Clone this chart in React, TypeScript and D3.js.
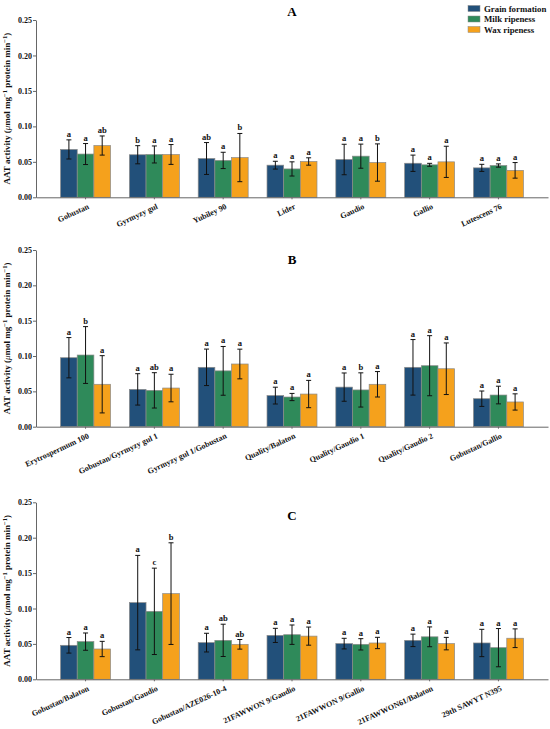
import { useEffect, useRef } from "react";
import * as d3 from "d3";

const SERIES = ["Grain formation", "Milk ripeness", "Wax ripeness"];
const COLORS = ["#22507a", "#2f8a5a", "#f5a11c"];
const Y_TICKS = [0, 0.05, 0.1, 0.15, 0.2, 0.25];

// panel A
const catsA = ["Gobustan", "Gyrmyzy gul", "Yubiley 90", "Lider", "Gaudio", "Gallio", "Lutescens 76"];
const meanA = [
  [0.0675, 0.060, 0.0547, 0.0453, 0.0533, 0.048, 0.0415],
  [0.061, 0.0604, 0.052, 0.040, 0.058, 0.0458, 0.0448],
  [0.073, 0.0604, 0.056, 0.0505, 0.049, 0.050, 0.038],
];
const errA = [
  [0.0135, 0.0128, 0.0225, 0.0055, 0.0215, 0.0115, 0.005],
  [0.0148, 0.012, 0.0115, 0.010, 0.017, 0.0021, 0.0023],
  [0.0135, 0.014, 0.034, 0.0052, 0.0263, 0.022, 0.011],
];
const letA = [
  ["a", "b", "ab", "a", "a", "a", "a"],
  ["a", "a", "a", "a", "a", "a", "a"],
  ["ab", "a", "b", "a", "b", "a", "a"],
];

// panel B
const catsB = ["Erytrospermum 100", "Gobustan/Gyrmyzy gul 1", "Gyrmyzy gul 1/Gobustan", "Quality/Balaton", "Quality/Gaudio 1", "Quality/Gaudio 2", "Gobustan/Gallio"];
const meanB = [
  [0.0976, 0.0528, 0.084, 0.044, 0.056, 0.084, 0.0396],
  [0.1014, 0.0514, 0.079, 0.042, 0.052, 0.0863, 0.0448],
  [0.060, 0.0547, 0.0887, 0.0462, 0.060, 0.082, 0.035],
];
const errB = [
  [0.0285, 0.0222, 0.0258, 0.0119, 0.020, 0.0393, 0.0109],
  [0.0402, 0.025, 0.0345, 0.0051, 0.0242, 0.0425, 0.0125],
  [0.0405, 0.0195, 0.021, 0.0193, 0.018, 0.0365, 0.0115],
];
const letB = [
  ["a", "a", "a", "a", "a", "a", "a"],
  ["b", "ab", "a", "a", "b", "a", "a"],
  ["a", "a", "a", "a", "a", "a", "a"],
];

// panel C
const catsC = ["Gobustan/Balaton", "Gobustan/Gaudio", "Gobustan/AZE026-10-4", "21FAWWON 9/Gaudio", "21FAWWON 9/Gallio", "21FAWWON61/Balaton", "29th SAWYT N395"];
const meanC = [
  [0.048, 0.1083, 0.0518, 0.062, 0.0504, 0.055, 0.0513],
  [0.0532, 0.096, 0.055, 0.063, 0.0494, 0.060, 0.0447],
  [0.0428, 0.121, 0.0494, 0.061, 0.0513, 0.0504, 0.058],
];
const errC = [
  [0.011, 0.0667, 0.0132, 0.010, 0.0075, 0.0088, 0.0193],
  [0.0122, 0.061, 0.0228, 0.0137, 0.008, 0.014, 0.027],
  [0.0108, 0.0718, 0.0068, 0.0128, 0.008, 0.0088, 0.0132],
];
const letC = [
  ["a", "a", "a", "a", "a", "a", "a"],
  ["a", "c", "ab", "a", "a", "a", "a"],
  ["a", "b", "ab", "a", "a", "a", "a"],
];

const PANELS = [
  { title: "A", cats: catsA, mean: meanA, err: errA, lets: letA, top: 20, bottom: 197.3, titleY: 11 },
  { title: "B", cats: catsB, mean: meanB, err: errB, lets: letB, top: 250, bottom: 426.7, titleY: 259.5 },
  { title: "C", cats: catsC, mean: meanC, err: errC, lets: letC, top: 502.3, bottom: 679.3, titleY: 515 },
];

const W = 550, H = 729;
const LEFT = 36, RIGHT = 548;
const FONT = "'Liberation Serif', 'Times New Roman', serif";

export default function App() {
  const svgRef = useRef<SVGSVGElement>(null);

  useEffect(() => {
    if (!svgRef.current) return;
    const svg = d3.select(svgRef.current);
    svg.selectAll("*").remove();

    PANELS.forEach((p) => {
      const g = svg.append("g");
      const x = d3.scaleBand<string>().domain(p.cats).range([LEFT, RIGHT]).paddingInner(0.274).paddingOuter(0.357);
      const xs = d3.scaleBand<number>().domain([0, 1, 2]).range([0, x.bandwidth()]);
      const y = d3.scaleLinear().domain([0, 0.25]).range([p.bottom, p.top]);

      // title
      g.append("text")
        .attr("x", (LEFT + RIGHT) / 2).attr("y", p.titleY).attr("dy", "0.35em")
        .attr("text-anchor", "middle")
        .attr("font-family", FONT).attr("font-weight", 700).attr("font-size", 13)
        .text(p.title);

      // y axis
      const ya = g.append("g").attr("transform", `translate(${LEFT},0)`)
        .call(d3.axisLeft(y).tickValues(Y_TICKS).tickFormat(d3.format(".2f")).tickSize(3).tickSizeOuter(0));
      ya.select(".domain").attr("stroke", "#666");
      ya.selectAll(".tick line").attr("stroke", "#666");
      ya.selectAll(".tick text").attr("font-family", FONT).attr("font-weight", 700).attr("font-size", 8).attr("fill", "#111").attr("x", -4);

      // y label
      const yl = g.append("text")
        .attr("transform", `translate(10,${(p.top + p.bottom) / 2}) rotate(-90)`)
        .attr("text-anchor", "middle")
        .attr("font-family", FONT).attr("font-weight", 700).attr("font-size", 9).attr("fill", "#111");
      yl.append("tspan").text("AAT activity (");
      yl.append("tspan").attr("font-style", "italic").attr("font-weight", 400).text("μ");
      yl.append("tspan").text("mol mg");
      yl.append("tspan").attr("dy", -3.5).attr("font-size", 6.5).text("−1");
      yl.append("tspan").attr("dy", 3.5).text(" protein min");
      yl.append("tspan").attr("dy", -3.5).attr("font-size", 6.5).text("−1");
      yl.append("tspan").attr("dy", 3.5).text(")");

      // bars
      SERIES.forEach((_, si) => {
        const sg = g.append("g");
        p.cats.forEach((c, ci) => {
          const v = p.mean[si][ci];
          const e = p.err[si][ci];
          const bx = (x(c) ?? 0) + (xs(si) ?? 0);
          const cx = bx + xs.bandwidth() / 2;
          sg.append("rect")
            .attr("x", bx).attr("y", y(v))
            .attr("width", xs.bandwidth()).attr("height", y(0) - y(v))
            .attr("fill", COLORS[si]).attr("stroke", "#8a8a8a").attr("stroke-width", 0.7);
          const eg = sg.append("g").attr("stroke", "#111").attr("stroke-width", 1);
          eg.append("line").attr("x1", cx).attr("x2", cx).attr("y1", y(v + e)).attr("y2", y(v - e));
          eg.append("line").attr("x1", cx - 2.5).attr("x2", cx + 2.5).attr("y1", y(v + e)).attr("y2", y(v + e));
          eg.append("line").attr("x1", cx - 2.5).attr("x2", cx + 2.5).attr("y1", y(v - e)).attr("y2", y(v - e));
          sg.append("text")
            .attr("x", cx).attr("y", y(v + e) - 3)
            .attr("text-anchor", "middle")
            .attr("font-family", FONT).attr("font-weight", 700).attr("font-size", 8.5).attr("fill", "#111")
            .text(p.lets[si][ci]);
        });
      });

      // x axis
      const xa = g.append("g").attr("transform", `translate(0,${p.bottom})`)
        .call(d3.axisBottom(x).tickSize(2).tickSizeOuter(0));
      xa.select(".domain").attr("stroke", "#666");
      xa.selectAll(".tick line").attr("stroke", "#666");
      xa.selectAll<SVGTextElement, string>(".tick text")
        .attr("font-family", FONT).attr("font-weight", 700).attr("font-size", 8).attr("fill", "#111")
        .attr("text-anchor", "end")
        .attr("x", 0).attr("y", 0).attr("dy", 0)
        .attr("transform", "translate(4,11) rotate(-25)");
    });

    // legend
    const lg = svg.append("g").attr("transform", "translate(468,0)");
    SERIES.forEach((s, i) => {
      const cy = 8.5 + i * 10.5;
      lg.append("rect").attr("x", 0).attr("y", cy - 3).attr("width", 12).attr("height", 6)
        .attr("fill", COLORS[i]).attr("stroke", "#8a8a8a").attr("stroke-width", 0.5);
      lg.append("text").attr("x", 16).attr("y", cy).attr("dy", "0.35em")
        .attr("font-family", FONT).attr("font-weight", 700).attr("font-size", 8.8).attr("fill", "#111")
        .text(s);
    });
  }, []);

  return (
    <svg ref={svgRef} width={W} height={H}
      style={{ position: "absolute", left: 0, top: 0, background: "#fff" }} />
  );
}
